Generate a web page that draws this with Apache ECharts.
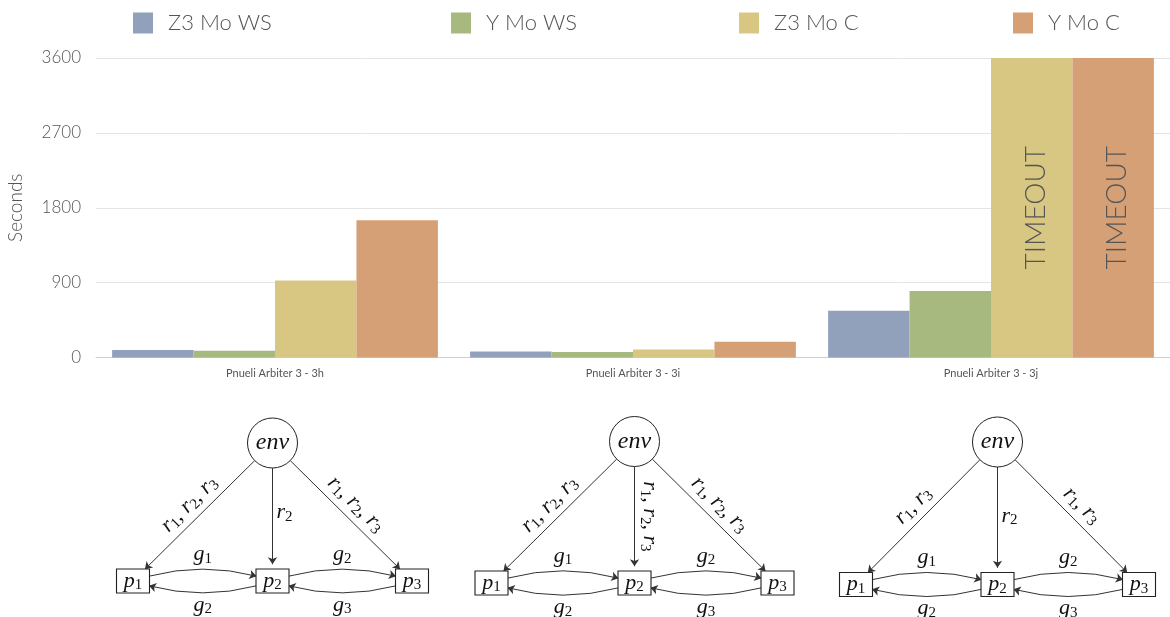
<!DOCTYPE html>
<html>
<head>
<meta charset="utf-8">
<script src="https://cdn.jsdelivr.net/npm/echarts@6/dist/echarts.min.js"></script>
<style>
  html, body { margin: 0; padding: 0; background: #fff; }
  #chart { width: 1170px; height: 617px; }
</style>
</head>
<body>
<div id="chart"></div>
<script>
// ---- Run times of the synthesis back-ends (seconds) ----
const categories = ['Pnueli Arbiter 3 - 3h', 'Pnueli Arbiter 3 - 3i', 'Pnueli Arbiter 3 - 3j'];
const seriesNames = ['Z3 Mo WS', 'Y Mo WS', 'Z3 Mo C', 'Y Mo C'];
const TIMEOUT = 3600;
const z3MoWS = [91, 72, 562];
const yMoWS = [80, 65, 799];
const z3MoC = [927, 96, TIMEOUT];
const yMoC = [1649, 189, TIMEOUT];
const yMin = 0;
const yMax = 3600;
const yStep = 900;

// ---- Communication topology of each arbiter variant ----
// node slots: column (-1 .. 1) and row (1 = environment, 0 = processes)
const nodeNames = ['env', 'p1', 'p2', 'p3'];
const nodeSlots = { env: [0, 1], p1: [-1, 0], p2: [0, 0], p3: [1, 0] };
// requests sent by the environment to every process, one entry per variant
const requestLabels = [
  { p1: ['r1', 'r2', 'r3'], p2: ['r2'], p3: ['r1', 'r2', 'r3'] },
  { p1: ['r1', 'r2', 'r3'], p2: ['r1', 'r2', 'r3'], p3: ['r1', 'r2', 'r3'] },
  { p1: ['r1', 'r3'], p2: ['r2'], p3: ['r1', 'r3'] }
];
// grants passed between neighbouring processes: [from, to, label]
const grantEdges = [
  ['p1', 'p2', 'g1'],
  ['p2', 'p1', 'g2'],
  ['p2', 'p3', 'g2'],
  ['p3', 'p2', 'g3']
];

// ---- styling ----
const barColors = ['#91a1bb', '#a8b980', '#d7c783', '#d6a076'];
const uiFont = 'Lato';
const textGray = '#555';
const ink = '#111';

const mathRich = {
  m: { fontFamily: 'Liberation Serif', fontStyle: 'italic', fontSize: 22, lineHeight: 24, color: ink },
  s: { fontFamily: 'Liberation Serif', fontSize: 15, lineHeight: 12, verticalAlign: 'bottom', color: ink },
  n: { fontFamily: 'Liberation Serif', fontStyle: 'italic', fontSize: 24, lineHeight: 26, color: ink }
};
function tex(sym) { return '{m|' + sym[0] + '}{s|' + sym.slice(1) + '}'; }
function texList(list) { return list.map(tex).join('{m|, }'); }

// process box: 33x24 frame drawn inside a slightly larger symbol box,
// so that edges stop right at the frame
const boxSymbol = 'path://M0,0M37,0M37,30M0,30M2,3L35,3L35,27L2,27Z';
const boxSize = [37, 30];
const envSize = 50;

// one region per diagram (left, top, width, height)
const diagramBoxes = [
  { left: 133, top: 443, width: 279, height: 138 },
  { left: 491.5, top: 441.5, width: 286, height: 141.5 },
  { left: 856, top: 442, width: 283, height: 142.5 }
];

const grids = [{ left: 96, top: 58, right: 0, height: 299.5, outerBoundsMode: 'none' }];
const xAxes = [{
  type: 'category', data: categories, gridIndex: 0,
  axisTick: { show: false },
  axisLine: { show: true, lineStyle: { color: '#cfcfcf', width: 1 } },
  axisLabel: { fontFamily: uiFont, fontSize: 11, color: textGray, margin: 10 }
}];
const yAxes = [{
  type: 'value', gridIndex: 0, min: yMin, max: yMax, interval: yStep,
  name: 'Seconds', nameLocation: 'middle', nameGap: 71, nameRotate: 90,
  nameTextStyle: { fontFamily: uiFont, fontSize: 19, fontWeight: 300, color: textGray },
  axisLine: { show: false }, axisTick: { show: false },
  axisLabel: { fontFamily: uiFont, fontSize: 17, fontWeight: 300, color: textGray, margin: 15,
               formatter: v => String(v) },
  splitLine: { lineStyle: { color: '#e4e4e4', width: 1 } }
}];

diagramBoxes.forEach((b, k) => {
  grids.push(Object.assign({ outerBoundsMode: 'none' }, b));
  xAxes.push({ type: 'value', gridIndex: k + 1, min: -1, max: 1, show: false });
  yAxes.push({ type: 'value', gridIndex: k + 1, min: 0, max: 1, show: false });
});

const values = [z3MoWS, yMoWS, z3MoC, yMoC];
const barSeries = seriesNames.map((name, i) => ({
  type: 'bar', name, data: values[i],
  xAxisIndex: 0, yAxisIndex: 0,
  barGap: '0%', barCategoryGap: '9%',
  itemStyle: { color: barColors[i] },
  label: {
    show: true, position: 'inside', rotate: 90, offset: [0, 4],
    formatter: p => (p.value >= TIMEOUT ? 'TIMEOUT' : ''),
    fontFamily: uiFont, fontWeight: 300, fontSize: 28, color: textGray
  },
  emphasis: { disabled: true },
  silent: true
}));

const diagramSeries = requestLabels.map((req, k) => {
  const links = [];
  ['p1', 'p2', 'p3'].forEach(t => {
    const syms = req[t];
    const text = texList(syms);
    let label;
    if (t === 'p2' && syms.length === 1) {
      // short label on the vertical edge stays upright, right of the edge
      label = { show: true, position: 'end', distance: -52, align: 'left', verticalAlign: 'middle',
                padding: [0, 0, 0, 4], formatter: () => text };
    } else {
      label = { show: true, position: 'middle', distance: 3, formatter: () => text };
    }
    links.push({ source: 'env', target: t, label });
  });
  grantEdges.forEach(([s, t, g]) => {
    const forward = nodeSlots[t][0] > nodeSlots[s][0];
    links.push({
      source: s, target: t,
      lineStyle: { curveness: 0.17 },
      label: { show: true, position: forward ? 'middle' : 'insideMiddleBottom', distance: forward ? 3 : 0,
               formatter: () => tex(g) }
    });
  });
  return {
    type: 'graph', coordinateSystem: 'cartesian2d',
    xAxisIndex: k + 1, yAxisIndex: k + 1,
    silent: true,
    data: nodeNames.map(n => ({
      name: n, value: nodeSlots[n],
      symbol: n === 'env' ? 'circle' : boxSymbol,
      symbolSize: n === 'env' ? envSize : boxSize,
      label: { formatter: () => (n === 'env' ? '{n|env}' : tex(n)) }
    })),
    links,
    edgeSymbol: ['circle', 'arrow'],
    edgeSymbolSize: [0, 7],
    itemStyle: { color: '#fff', borderColor: '#222', borderWidth: 1, opacity: 1 },
    lineStyle: { color: '#333', width: 1, opacity: 1, curveness: 0 },
    label: { show: true, position: 'inside', rich: mathRich },
    edgeLabel: { show: true, rich: mathRich },
    emphasis: { disabled: true }
  };
});

const legendLefts = [133, 451, 739, 1013];
const legends = seriesNames.map((name, i) => ({
  data: [name], left: legendLefts[i], top: 12, padding: 0,
  icon: 'rect', itemWidth: 20, itemHeight: 21,
  selectedMode: false,
  textStyle: { fontFamily: uiFont, fontSize: 22, fontWeight: 300, color: textGray, padding: [0, 0, 0, 10] }
}));

const chart = echarts.init(document.getElementById('chart'), null, { renderer: 'canvas' });
chart.setOption({
  animation: false,
  backgroundColor: '#fff',
  color: barColors,
  legend: legends,
  grid: grids,
  xAxis: xAxes,
  yAxis: yAxes,
  series: barSeries.concat(diagramSeries)
});
</script>
</body>
</html>
